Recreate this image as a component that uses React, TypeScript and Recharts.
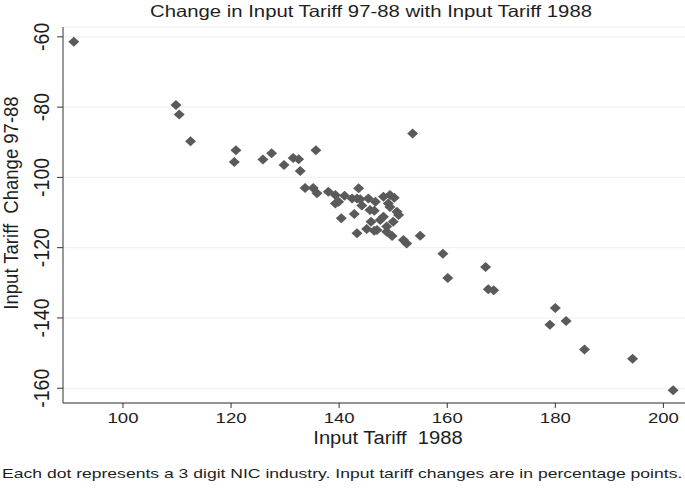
import React from 'react';
import { ScatterChart, Scatter, XAxis, YAxis, CartesianGrid } from 'recharts';

// Input tariff in 1988 (x) and change 1997-88 (y), one entry per 3 digit NIC industry
const tariff1988 = [
  90.9, 109.8, 110.4, 112.5, 120.9, 120.6, 125.9, 127.5, 129.8, 131.5,
  132.5, 132.8, 135.7, 133.7, 135.2, 135.9, 138.0, 139.3, 139.9, 142.4,
  143.6, 143.3, 145.4, 146.7, 148.2, 149.4, 149.1, 150.7, 145.7, 140.4,
  142.8, 143.3, 145.1, 145.9, 146.5, 149.8, 151.9, 152.5, 155.0, 153.6,
  139.3, 143.9, 148.8, 147.0, 147.6, 148.2, 151.0, 150.0, 148.8, 149.4,
  144.2, 141.0, 146.5, 150.2,
  159.2, 160.1, 167.1, 167.6, 168.6, 180.0, 179.0, 182.0, 185.4, 194.3, 201.8,
];
const tariffChange = [
  -61.4, -79.4, -82.1, -89.7, -92.3, -95.6, -94.9, -93.1, -96.5, -94.5,
  -94.8, -98.2, -92.3, -103.0, -103.0, -104.5, -104.1, -105.0, -106.9, -106.0,
  -103.1, -106.0, -106.0, -106.9, -105.5, -105.0, -107.4, -109.8, -109.3, -111.6,
  -110.4, -115.9, -114.7, -112.6, -115.2, -116.7, -117.8, -118.8, -116.6, -87.5,
  -107.4, -106.2, -114.0, -115.0, -112.1, -111.2, -110.7, -112.6, -115.5, -108.4,
  -108.0, -105.2, -109.5, -105.8,
  -121.7, -128.6, -125.5, -131.8, -132.1, -137.2, -141.9, -140.9, -149.0, -151.6, -160.6,
];
const xTicks = [100, 120, 140, 160, 180, 200];
const yTicks = [-160, -140, -120, -100, -80, -60];

const data = tariff1988.map((x, i) => ({ x, y: tariffChange[i] }));

const FONT = "'Liberation Sans', Arial, sans-serif";
const INK = '#1e1e1e';

const Diamond = (props: any) => {
  const { cx, cy } = props;
  const rx = 5.5;
  const ry = 5;
  return <path d={`M${cx},${cy - ry}L${cx + rx},${cy}L${cx},${cy + ry}L${cx - rx},${cy}Z`} fill="#5a5a5a" />;
};

// the picture is a bit stretched sideways, so the labels are too
const XTick = (props: any) => {
  const { x, y, payload } = props;
  return (
    <g transform={`translate(${x},${y})`}>
      <text transform="scale(1.2,1)" textAnchor="middle" dy="0.75em" fontSize={15.5} fill={INK} fontFamily={FONT}>
        {payload.value}
      </text>
    </g>
  );
};

const YTick = (props: any) => {
  const { x, y, payload } = props;
  const tx = x - 8;
  return (
    <g transform={`translate(${tx},${y}) rotate(-90)`}>
      <text transform="scale(1,1.15)" textAnchor="middle" fontSize={19.5} fill={INK} fontFamily={FONT}>
        {payload.value}
      </text>
    </g>
  );
};

export default function App() {
  return (
    <div style={{ position: 'absolute', left: 0, top: 0, width: 685, height: 490, background: '#fff', fontFamily: FONT, color: INK, overflow: 'hidden' }}>
      <div
        style={{
          position: 'absolute', top: 2, left: 71, width: 600, textAlign: 'center', fontSize: 16.5,
          transform: 'scaleX(1.23)', transformOrigin: 'center', whiteSpace: 'nowrap',
        }}
      >
        Change in Input Tariff 97-88 with Input Tariff 1988
      </div>
      <ScatterChart width={685} height={490} margin={{ top: 27, right: 0, bottom: 57, left: 0 }}>
        <CartesianGrid horizontal vertical={false} stroke="#ededed" />
        <XAxis
          type="number"
          dataKey="x"
          domain={[88.9, 204]}
          ticks={xTicks}
          allowDataOverflow
          height={30}
          stroke="#333"
          tickSize={5}
          tickMargin={3}
          tick={<XTick />}
        />
        <YAxis
          type="number"
          dataKey="y"
          domain={[-164.2, -57.2]}
          ticks={yTicks}
          allowDataOverflow
          width={63}
          stroke="#333"
          tickSize={6}
          tickMargin={0}
          tick={<YTick />}
        />
        <Scatter data={data} shape={<Diamond />} isAnimationActive={false} />
      </ScatterChart>
      <div
        style={{
          position: 'absolute', top: 428, left: 88, width: 600, textAlign: 'center', fontSize: 18,
          transform: 'scaleX(1.12)', transformOrigin: 'center', whiteSpace: 'nowrap',
        }}
      >
        Input Tariff&nbsp; 1988
      </div>
      <div
        style={{
          position: 'absolute', left: 12, top: 203, width: 240, textAlign: 'center', fontSize: 18.5, lineHeight: 1,
          transform: 'translate(-50%, -50%) rotate(-90deg) scaleY(1.1)', whiteSpace: 'nowrap',
        }}
      >
        Input Tariff&nbsp; Change 97-88
      </div>
      <div
        style={{
          position: 'absolute', top: 466, left: 2, fontSize: 13.5, whiteSpace: 'nowrap',
          transform: 'scaleX(1.3)', transformOrigin: 'left',
        }}
      >
        Each dot represents a 3 digit NIC industry. Input tariff changes are in percentage points.
      </div>
    </div>
  );
}
